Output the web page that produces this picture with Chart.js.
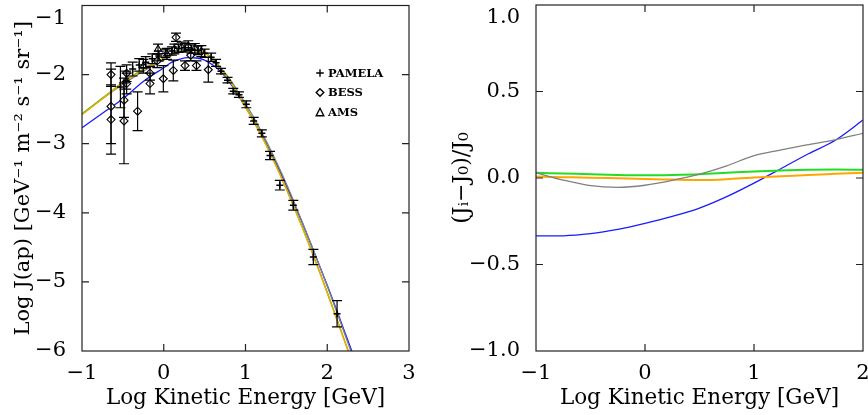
<!DOCTYPE html>
<html lang="en">
<head>
<meta charset="UTF-8">
<title>Antiproton flux</title>
<style>
  html, body { margin: 0; padding: 0; background: #fff; }
  .box { position: absolute; top: 0; width: 434px; height: 415px; }
  #left { left: 0; }
  #right { left: 434px; }
</style>
</head>
<body>
<div class="box" id="left"><canvas id="fluxChart" width="434" height="415"></canvas></div>
<div class="box" id="right"><canvas id="ratioChart" width="434" height="415"></canvas></div>

<script src="https://cdn.jsdelivr.net/npm/chart.js@4.4.1/dist/chart.umd.min.js"></script>
<script>
// ---- left panel: model curves (log E vs log J)
const fluxE = [-1, -0.75, -0.5, -0.25, 0, 0.1, 0.2, 0.3, 0.4, 0.5, 0.6, 0.7, 0.8, 0.9, 1.0,
  1.1, 1.2, 1.3, 1.4, 1.5, 1.6, 1.7, 1.8, 1.9, 2.0, 2.1, 2.2, 2.3, 2.4];
const fluxOrange = [-2.58, -2.35, -2.12, -1.93, -1.77, -1.71, -1.67, -1.65, -1.655, -1.69, -1.79, -1.94, -2.08, -2.27, -2.47,
  -2.68, -2.90, -3.14, -3.39, -3.66, -3.94, -4.23, -4.53, -4.84, -5.16, -5.49, -5.82, -6.15, -6.49];
const fluxGreen = [-2.57, -2.34, -2.11, -1.92, -1.76, -1.70, -1.66, -1.64, -1.645, -1.68, -1.78, -1.93, -2.07, -2.26, -2.46,
  -2.67, -2.89, -3.13, -3.38, -3.65, -3.93, -4.22, -4.52, -4.83, -5.15, -5.48, -5.81, -6.14, -6.48];
const fluxGray = [-2.57, -2.35, -2.14, -1.95, -1.79, -1.72, -1.675, -1.65, -1.65, -1.68, -1.77, -1.91, -2.05, -2.23, -2.42,
  -2.62, -2.84, -3.07, -3.32, -3.58, -3.86, -4.15, -4.45, -4.75, -5.06, -5.38, -5.71, -6.04, -6.37];
const fluxBlue = [-2.77, -2.56, -2.35, -2.10, -1.90, -1.82, -1.775, -1.755, -1.76, -1.79, -1.86, -1.96, -2.10, -2.28, -2.47,
  -2.67, -2.88, -3.11, -3.35, -3.61, -3.88, -4.16, -4.45, -4.75, -5.05, -5.36, -5.68, -6.00, -6.33];

// measurements: log E, log J, error
const pamelaE = [-0.53, -0.46, -0.38, -0.30, -0.22, -0.14, -0.06, 0.02, 0.10, 0.18, 0.26, 0.34, 0.42, 0.50, 0.58, 0.64,
  0.70, 0.78, 0.85, 0.92, 1.01, 1.10, 1.20, 1.30, 1.42, 1.585, 1.83, 2.12];
const pamelaJ = [-2.18, -2.08, -1.92, -1.86, -1.82, -1.77, -1.73, -1.69, -1.66, -1.62, -1.61, -1.63, -1.65, -1.69, -1.75, -1.83,
  -1.95, -2.08, -2.24, -2.29, -2.43, -2.67, -2.85, -3.17, -3.60, -3.89, -4.64, -5.46];
const pamelaErr = [0.3, 0.13, 0.1, 0.09, 0.08, 0.07, 0.07, 0.06, 0.06, 0.06, 0.06, 0.06, 0.06, 0.06, 0.06, 0.05,
  0.04, 0.04, 0.04, 0.04, 0.05, 0.05, 0.05, 0.06, 0.07, 0.07, 0.11, 0.19];

const bessE = [-0.645, -0.645, -0.645, -0.486, -0.486, -0.454, -0.454, -0.32, -0.168, -0.168, -0.005, 0.117, 0.15, 0.26, 0.40, 0.545, -0.08, 0.33];
const bessJ = [-2.0, -2.46, -2.65, -2.37, -2.67, -1.98, -2.13, -2.53, -1.98, -2.13, -2.06, -1.94, -1.46, -1.87, -1.87, -1.93, -1.80, -1.72];
const bessErr = [0.17, 0.54, 0.5, 0.25, 0.62, 0.12, 0.15, 0.28, 0.1, 0.15, 0.19, 0.15, 0.06, 0.07, 0.07, 0.18, 0.1, 0.08];

const amsE = [-0.25, -0.07, 0.04, 0.13, 0.22, 0.30, 0.38, 0.46];
const amsJ = [-1.88, -1.63, -1.70, -1.63, -1.60, -1.58, -1.62, -1.66];
const amsErr = [0.1, 0.07, 0.08, 0.07, 0.07, 0.07, 0.07, 0.08];

// ---- right panel: (Ji - J0)/J0
const ratioE = [-1, -0.75, -0.5, -0.25, 0, 0.25, 0.5, 0.75, 1.0, 1.25, 1.5, 1.75, 2.0];
const ratioGray = [0.03, -0.012, -0.044, -0.054, -0.042, -0.014, 0.022, 0.07, 0.13, 0.163, 0.193, 0.222, 0.258];
const ratioGreen = [0.03, 0.026, 0.022, 0.018, 0.016, 0.018, 0.022, 0.030, 0.038, 0.044, 0.048, 0.049, 0.048];
const ratioOrange = [0.008, 0.005, 0.002, -0.002, -0.006, -0.009, -0.012, -0.007, 0.003, 0.010, 0.018, 0.024, 0.030];
const ratioBlue = [-0.335, -0.334, -0.322, -0.297, -0.262, -0.222, -0.174, -0.108, -0.03, 0.055, 0.14, 0.22, 0.335];

// tick values
const fluxTicksX = [-1, 0, 1, 2, 3];
const fluxTicksY = [-6, -5, -4, -3, -2, -1];
const ratioTicksX = [-1, 0, 1, 2];
const ratioTicksY = [-1, -0.5, 0, 0.5, 1];

Chart.defaults.font.family = "'DejaVu Serif', serif";
Chart.defaults.color = '#000';

const pts = (xs, ys) => xs.map((x, i) => ({ x: x, y: ys[i] }));
const minus = s => String(s).replace('-', '\u2212');

function curve(xs, ys, color, width) {
  return {
    data: pts(xs, ys), showLine: true, borderColor: color, borderWidth: width,
    pointRadius: 0, cubicInterpolationMode: 'monotone', fill: false
  };
}

// black frame with inward tick marks on all four sides
const frameTicks = {
  id: 'frameTicks',
  afterDraw(chart) {
    const { ctx, chartArea: a, scales } = chart;
    const len = 7;
    ctx.save();
    ctx.strokeStyle = '#222';
    ctx.lineWidth = 1.2;
    ctx.strokeRect(a.left, a.top, a.right - a.left, a.bottom - a.top);
    ctx.beginPath();
    scales.x.ticks.forEach(t => {
      const px = scales.x.getPixelForValue(t.value);
      if (px <= a.left + 1 || px >= a.right - 1) return;
      ctx.moveTo(px, a.bottom); ctx.lineTo(px, a.bottom - len);
      ctx.moveTo(px, a.top); ctx.lineTo(px, a.top + len);
    });
    scales.y.ticks.forEach(t => {
      const py = scales.y.getPixelForValue(t.value);
      if (py <= a.top + 1 || py >= a.bottom - 1) return;
      ctx.moveTo(a.left, py); ctx.lineTo(a.left + len, py);
      ctx.moveTo(a.right, py); ctx.lineTo(a.right - len, py);
    });
    ctx.stroke();
    ctx.restore();
  }
};

// vertical error bars for datasets that carry an `errors` array
const errorBars = {
  id: 'errorBars',
  afterDatasetsDraw(chart) {
    const { ctx, scales: { x, y } } = chart;
    ctx.save();
    ctx.strokeStyle = '#000';
    ctx.lineWidth = 1.2;
    chart.data.datasets.forEach(ds => {
      if (!ds.errors) return;
      ds.data.forEach((p, j) => {
        const e = ds.errors[j];
        const px = x.getPixelForValue(p.x);
        const y1 = y.getPixelForValue(p.y + e);
        const y2 = y.getPixelForValue(p.y - e);
        ctx.beginPath();
        ctx.moveTo(px, y1); ctx.lineTo(px, y2);
        ctx.moveTo(px - 5, y1); ctx.lineTo(px + 5, y1);
        ctx.moveTo(px - 5, y2); ctx.lineTo(px + 5, y2);
        ctx.stroke();
      });
    });
    ctx.restore();
  }
};

// small symbol legend inside the left panel
const markLegend = {
  id: 'markLegend',
  afterDraw(chart, args, opts) {
    if (!opts.x) return;
    const ctx = chart.ctx;
    ctx.save();
    ctx.strokeStyle = '#000';
    ctx.fillStyle = '#000';
    ctx.lineWidth = 1.4;
    ctx.font = "bold 11.5px 'DejaVu Serif'";
    ctx.textBaseline = 'middle';
    chart.data.datasets.filter(d => d.mark).forEach((ds, i) => {
      const cx = opts.x, cy = opts.y + i * opts.gap, r = 3.8;
      ctx.beginPath();
      if (ds.mark === 'cross') {
        ctx.moveTo(cx - r, cy); ctx.lineTo(cx + r, cy);
        ctx.moveTo(cx, cy - r); ctx.lineTo(cx, cy + r);
      } else if (ds.mark === 'diamond') {
        ctx.moveTo(cx, cy - r); ctx.lineTo(cx + r, cy); ctx.lineTo(cx, cy + r); ctx.lineTo(cx - r, cy); ctx.closePath();
      } else {
        ctx.moveTo(cx, cy - r); ctx.lineTo(cx + r, cy + r); ctx.lineTo(cx - r, cy + r); ctx.closePath();
      }
      ctx.stroke();
      ctx.fillText(ds.label, cx + 8, cy + 1);
    });
    ctx.restore();
  }
};

function yAxis(ticks, min, max, fmt, title, titleSize, titlePad, width) {
  return {
    type: 'linear', min: min, max: max,
    afterBuildTicks: s => { s.ticks = ticks.map(v => ({ value: v })); },
    afterFit: s => { s.width = width; s.paddingTop = 0; s.paddingBottom = 0; },
    grid: { display: false },
    border: { display: false },
    ticks: {
      padding: 8, font: { size: 21 },
      // top label sits just under the frame corner
      callback: v => v === max ? ['', fmt(v)] : fmt(v)
    },
    title: { display: true, text: title, font: { size: titleSize }, padding: { top: titlePad, bottom: 0 } }
  };
}

function xAxis(ticks, min, max) {
  return {
    type: 'linear', min: min, max: max,
    afterBuildTicks: s => { s.ticks = ticks.map(v => ({ value: v })); },
    afterFit: s => { s.height = 64; s.paddingLeft = 0; s.paddingRight = 0; },
    grid: { display: false },
    border: { display: false },
    ticks: { padding: 2, font: { size: 21 }, maxRotation: 0, callback: v => minus(v) },
    title: { display: true, text: 'Log Kinetic Energy [GeV]', font: { size: 21.5 }, padding: { top: 2, bottom: 4 } }
  };
}

new Chart(document.getElementById('fluxChart'), {
  type: 'scatter',
  data: {
    datasets: [
      { label: 'PAMELA', mark: 'cross', data: pts(pamelaE, pamelaJ), errors: pamelaErr,
        pointStyle: 'cross', pointRadius: 3.5, borderColor: '#000', borderWidth: 1.5 },
      { label: 'BESS', mark: 'diamond', data: pts(bessE, bessJ), errors: bessErr,
        pointStyle: 'rectRot', pointRadius: 4, borderColor: '#000', backgroundColor: '#fff', borderWidth: 1.1 },
      { label: 'AMS', mark: 'triangle', data: pts(amsE, amsJ), errors: amsErr,
        pointStyle: 'triangle', pointRadius: 4, borderColor: '#000', backgroundColor: 'rgba(0,0,0,0)', borderWidth: 1.1 },
      curve(fluxE, fluxOrange, '#ffa500', 1.4),
      curve(fluxE, fluxGreen, '#22cc22', 1.4),
      curve(fluxE, fluxGray, '#808080', 1.3),
      curve(fluxE, fluxBlue, '#1a1aff', 1.3)
    ]
  },
  options: {
    responsive: false,
    animation: false,
    layout: { padding: { left: 0, top: 5, right: 25, bottom: 0 } },
    plugins: {
      legend: { display: false },
      tooltip: { enabled: false },
      markLegend: { x: 320, y: 73, gap: 19.5 }
    },
    scales: {
      x: xAxis(fluxTicksX, -1, 3),
      y: yAxis(fluxTicksY, -6, -1, v => minus(v),
        'Log J(ap) [GeV\u207B\u00B9 m\u207B\u00B2 s\u207B\u00B9 sr\u207B\u00B9]', 21, 11, 82)
    }
  },
  plugins: [errorBars, frameTicks, markLegend]
});

new Chart(document.getElementById('ratioChart'), {
  type: 'scatter',
  data: {
    datasets: [
      curve(ratioE, ratioGray, '#808080', 1.3),
      curve(ratioE, ratioGreen, '#22dd22', 2),
      curve(ratioE, ratioOrange, '#ffa500', 2),
      curve(ratioE, ratioBlue, '#1a1aff', 1.3)
    ]
  },
  options: {
    responsive: false,
    animation: false,
    layout: { padding: { left: 0, top: 5, right: 5, bottom: 0 } },
    plugins: { legend: { display: false }, tooltip: { enabled: false } },
    scales: {
      x: xAxis(ratioTicksX, -1, 2),
      y: yAxis(ratioTicksY, -1, 1, v => minus(v.toFixed(1)),
        '(J\u1D62\u2212J\u2080)/J\u2080', 22, 15, 102)
    }
  },
  plugins: [frameTicks]
});
</script>
</body>
</html>
